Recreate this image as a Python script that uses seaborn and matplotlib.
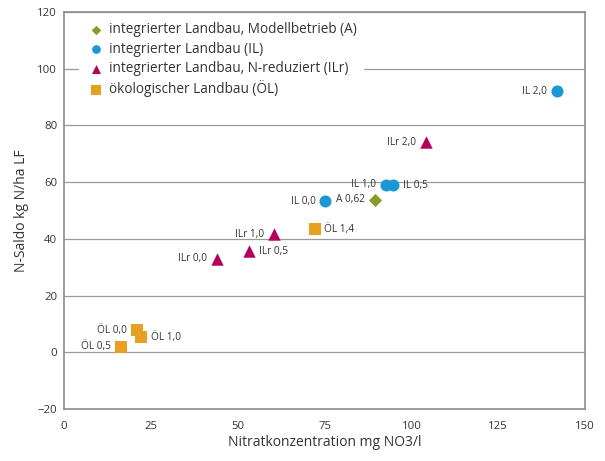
import matplotlib
matplotlib.use("Agg")
import matplotlib.pyplot as plt
import pandas as pd
import seaborn as sns

# values
groups = ["integrierter Landbau, Modellbetrieb (A)",
          "integrierter Landbau (IL)",
          "integrierter Landbau, N-reduziert (ILr)",
          "ökologischer Landbau (ÖL)"]

a_x = [89.5]
a_y = [53.8]
a_lab = ["A 0,62"]

il_x = [75.2, 92.6, 94.8, 141.9]
il_y = [53.3, 59.0, 58.9, 92.1]
il_lab = ["IL 0,0", "IL 1,0", "IL 0,5", "IL 2,0"]

ilr_x = [44.0, 53.3, 60.5, 104.2]
ilr_y = [32.9, 35.6, 41.6, 74.0]
ilr_lab = ["ILr 0,0", "ILr 0,5", "ILr 1,0", "ILr 2,0"]

oel_x = [16.4, 20.9, 22.2, 72.1]
oel_y = [1.9, 7.8, 5.3, 43.3]
oel_lab = ["ÖL 0,5", "ÖL 0,0", "ÖL 1,0", "ÖL 1,4"]

colors = ["#8a9b28", "#1a98d5", "#b4005a", "#e8a022"]
markers = ["D", "o", "^", "s"]
sizes = [45, 75, 80, 85]

# label side: -1 = left of marker, 1 = right of marker
label_side = {"A 0,62": -1, "IL 0,0": -1, "IL 1,0": -1, "IL 0,5": 1, "IL 2,0": -1,
              "ILr 0,0": -1, "ILr 0,5": 1, "ILr 1,0": -1, "ILr 2,0": -1,
              "ÖL 0,5": -1, "ÖL 0,0": -1, "ÖL 1,0": 1, "ÖL 1,4": 1}

df = pd.DataFrame({
    "x": a_x + il_x + ilr_x + oel_x,
    "y": a_y + il_y + ilr_y + oel_y,
    "label": a_lab + il_lab + ilr_lab + oel_lab,
    "group": [groups[0]] * len(a_x) + [groups[1]] * len(il_x)
             + [groups[2]] * len(ilr_x) + [groups[3]] * len(oel_x),
})

sns.set_style("white")
plt.rcParams["font.family"] = ["Open Sans", "DejaVu Sans"]
text_col = "#333333"

fig = plt.figure(figsize=(6.05, 4.61), dpi=100)
ax = fig.add_axes([0.106, 0.113, 0.861, 0.861])

for g, c, m, s in zip(groups, colors, markers, sizes):
    sub = df[df["group"] == g]
    sns.scatterplot(data=sub, x="x", y="y", color=c, marker=m, s=s,
                    linewidth=0, ax=ax, label=g, zorder=3)

for _, r in df.iterrows():
    side = label_side[r["label"]]
    ax.annotate(r["label"], (r["x"], r["y"]), xytext=(7 * side, 0),
                textcoords="offset points", ha="right" if side < 0 else "left",
                va="center", fontsize=7.3, color=text_col)

ax.set_xlim(0, 150)
ax.set_ylim(-20, 120)
ax.set_xticks(range(0, 151, 25))
ax.set_yticks(range(-20, 121, 20))
ax.set_yticklabels(["\u221220"] + [str(v) for v in range(0, 121, 20)])
ax.grid(axis="y", color="#9a9a9a", linewidth=0.9)
ax.set_axisbelow(True)
for sp in ax.spines.values():
    sp.set_color("#8c8c8c")
    sp.set_linewidth(1.2)
ax.tick_params(axis="x", direction="in", length=3, color="#8c8c8c",
               labelsize=8.2, labelcolor=text_col, pad=9)
ax.tick_params(axis="y", direction="out", length=2, color="#8c8c8c",
               labelsize=8.2, labelcolor=text_col, pad=3)
ax.set_xlabel("Nitratkonzentration mg NO3/l", fontsize=10, color=text_col, labelpad=2)
ax.set_ylabel("N-Saldo kg N/ha LF", fontsize=10, color=text_col, labelpad=6)

leg = ax.legend(loc="upper left", bbox_to_anchor=(0.015, 1.008), frameon=True,
                fontsize=9.8, handletextpad=0.2, labelspacing=0.32,
                borderpad=0.5, handlelength=1.5, markerscale=0.72)
leg.get_frame().set_facecolor("white")
leg.get_frame().set_edgecolor("white")
leg.get_frame().set_alpha(1)
for t in leg.get_texts():
    t.set_color(text_col)

fig.savefig("out.png", dpi=100)
